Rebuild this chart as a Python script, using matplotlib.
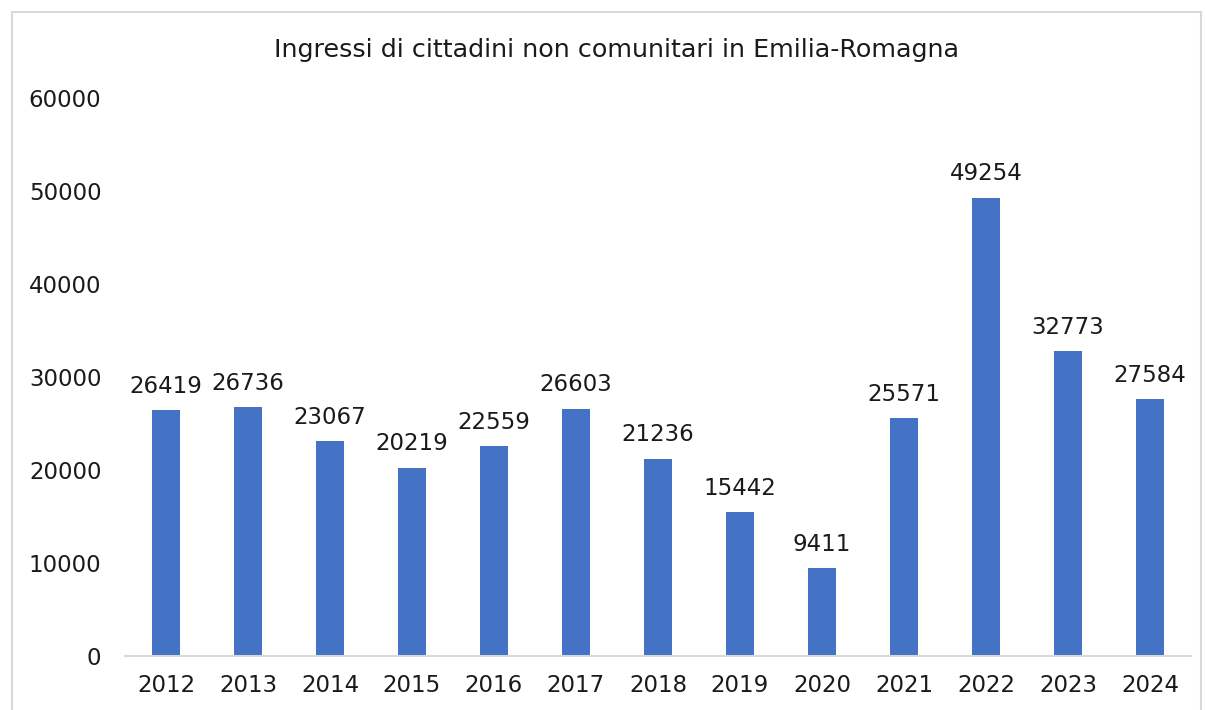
import matplotlib
matplotlib.use("Agg")
import matplotlib.pyplot as plt
from matplotlib.patches import Rectangle

years = ["2012", "2013", "2014", "2015", "2016", "2017", "2018",
         "2019", "2020", "2021", "2022", "2023", "2024"]
values = [26419, 26736, 23067, 20219, 22559, 26603, 21236,
          15442, 9411, 25571, 49254, 32773, 27584]
yticks = [0, 10000, 20000, 30000, 40000, 50000, 60000]
title = "Ingressi di cittadini non comunitari in Emilia-Romagna"

plt.rcParams['font.family'] = ['DejaVu Sans']
text_color = '#1a1a1a'

fig = plt.figure(figsize=(12.05, 7.10), dpi=100)
fig.patches.append(Rectangle((12 / 1205, -0.01), (1201 - 12) / 1205, 1 - 12 / 710 + 0.01,
                             transform=fig.transFigure, fill=False,
                             edgecolor='#D9D9D9', linewidth=1.5))
ax = fig.add_axes([125 / 1205, 54 / 710, (1191 - 125) / 1205, (656 - 98) / 710])

x = list(range(len(years)))
bars = ax.bar(x, values, width=0.33, color='#4472C4')
for xi, v in zip(x, values):
    ax.annotate(str(v), (xi, v), xytext=(0, 9), textcoords='offset points',
                ha='center', va='bottom', fontsize=16.5, color=text_color)

ax.set_xlim(-0.5, len(years) - 0.5)
ax.set_ylim(0, 60000)
ax.set_yticks(yticks)
ax.set_yticklabels([str(t) for t in yticks])
ax.set_xticks(x)
ax.set_xticklabels(years)
ax.tick_params(axis='both', length=0, labelsize=16.5, colors=text_color)
ax.tick_params(axis='y', pad=17)
ax.tick_params(axis='x', pad=13)
for s in ['top', 'right', 'left']:
    ax.spines[s].set_visible(False)
ax.spines['bottom'].set_color('#D9D9D9')
ax.spines['bottom'].set_linewidth(1.5)

fig.text(617 / 1205, 1 - 50 / 710, title, ha='center', va='center',
         fontsize=18.3, color=text_color)

fig.savefig("out.png", dpi=100)
